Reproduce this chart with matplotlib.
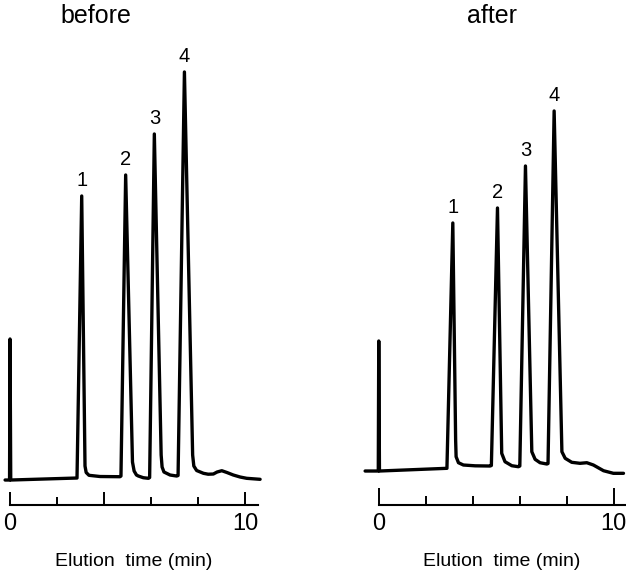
import matplotlib
matplotlib.use("Agg")
import matplotlib.pyplot as plt

plt.rcParams["font.family"] = ["Liberation Sans", "DejaVu Sans"]

# Chromatogram traces: elution time (min) vs detector response (a.u.)
before_time = [-0.21, -0.02, 0.00, 0.03, 2.85, 3.05, 3.19, 3.24, 3.36, 3.83, 4.68, 4.72,
               4.92, 5.21, 5.28, 5.38, 5.46, 5.67, 5.89, 5.94,
               6.14, 6.43, 6.47, 6.55, 6.81, 7.09, 7.15,
               7.42, 7.77, 7.82, 7.94, 8.23, 8.43, 8.65, 8.81, 9.01, 9.23, 9.50, 9.79,
               10.07, 10.64]
before_signal = [0, 0, 141, 0, 2, 284, 14, 7.5, 4.7, 3.5, 3.3, 4,
                 305, 18, 9, 5, 4, 2.3, 1.7, 2.5,
                 346, 25, 13, 8, 5, 4, 4.5,
                 408, 25, 14, 9.5, 6.7, 5.8, 6, 8, 9.3, 7.5, 5, 3,
                 1.7, 0.7]

after_time = [-0.57, -0.01, 0.01, 0.04, 2.91, 3.16, 3.28, 3.30, 3.40, 3.61, 4.11, 4.74, 4.80,
              5.06, 5.24, 5.38, 5.67, 5.95, 6.01,
              6.25, 6.52, 6.66, 6.87, 7.16, 7.21,
              7.47, 7.80, 7.94, 8.22, 8.57, 8.86, 9.14, 9.57, 9.99, 10.42]
after_signal = [0, 0, 130, 0, 2.7, 248, 31, 14.3, 8.3, 6, 5.2, 5, 5.5,
                263, 17.7, 9.3, 5.3, 4.3, 5,
                305, 19.3, 11.7, 8.3, 7, 7.5,
                360, 19.3, 12.7, 8.7, 7.7, 8.3, 6, 0.3, -2.3, -2.3]

peak_labels = ["1", "2", "3", "4"]
tick_labels = {0: "0", 10: "10"}

panels = [
    # title, title x (min), time, signal, long ticks, short ticks, xlim, ylim, axes rect,
    # end of the time axis, tick lengths
    ("before", 3.66, before_time, before_signal, [0, 4, 10], [2, 6, 8], (-0.4, 10.8),
     (-25, 450), [0.001, 0.1171, 0.4205, 0.8305], 10.55, (9.7, 6.1)),
    ("after", 4.83, after_time, after_signal, [0, 10], [2, 4, 6, 8], (-0.75, 10.5),
     (-34, 441), [0.5765, 0.1171, 0.4225, 0.8305], 10.5, (12.2, 6.5)),
]

fig = plt.figure(figsize=(6.26, 5.72), dpi=100)

for (title, title_x, t, s, long_ticks, short_ticks, xlim, ylim, rect, axis_end,
     tick_len) in panels:
    ax = fig.add_axes(rect)
    ax.plot(t, s, color="black", lw=2.4, solid_joinstyle="round",
            solid_capstyle="round", clip_on=False)
    ax.set_xlim(*xlim)
    ax.set_ylim(*ylim)

    for side in ["top", "right", "left"]:
        ax.spines[side].set_visible(False)
    ax.spines["bottom"].set_bounds(0, axis_end)
    ax.spines["bottom"].set_linewidth(1.5)
    ax.set_yticks([])

    ax.set_xticks(long_ticks)
    ax.set_xticklabels([tick_labels.get(v, "") for v in long_ticks])
    ax.set_xticks(short_ticks, minor=True)
    ax.tick_params(axis="x", which="major", direction="in", length=tick_len[0],
                   width=1.4, pad=6, labelsize=17)
    ax.tick_params(axis="x", which="minor", direction="in", length=tick_len[1], width=1.4)

    # peak numbers above the four largest maxima (skips the injection spike)
    maxima = [i for i in range(1, len(s) - 1) if s[i] > s[i - 1] and s[i] > s[i + 1]]
    tops = sorted(sorted(maxima, key=lambda i: s[i])[-4:], key=lambda i: t[i])
    for lab, i in zip(peak_labels, tops):
        ax.annotate(lab, (t[i], s[i]), xytext=(0, 7), textcoords="offset points",
                    ha="center", va="baseline", fontsize=14.5)

    ax.text(title_x, 1.015, title, transform=ax.get_xaxis_transform(),
            ha="center", va="baseline", fontsize=18)
    ax.text(5.25, -0.128, "Elution  time (min)", transform=ax.get_xaxis_transform(),
            ha="center", va="baseline", fontsize=14)

fig.savefig("out.png", dpi=100)
